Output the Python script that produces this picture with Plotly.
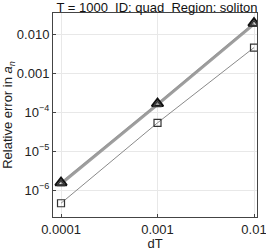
import plotly.graph_objects as go

dT = [0.0001, 0.001, 0.01]
err_tri = [1.55e-6, 1.65e-4, 0.019]
err_tri2 = [1.45e-6, 1.55e-4, 0.018]
err_sq = [4.6e-7, 5.3e-5, 4.5e-3]

y_tickvals = [1e-6, 1e-5, 1e-4, 1e-3, 1e-2]
y_ticktext = ["10<sup>−6</sup>", "10<sup>−5</sup>", "10<sup>−4</sup>", "0.001", "0.010"]
x_tickvals = [0.0001, 0.001, 0.01]
x_ticktext = ["0.0001", "0.001", "0.01"]

FONT = "Liberation Sans, Arial"

fig = go.Figure()
fig.add_trace(go.Scatter(x=dT, y=err_sq, mode="lines+markers",
                         line=dict(color="#8a8a8a", width=1),
                         marker=dict(symbol="square-open", size=7, color="#333333",
                                     line=dict(width=1.2))))
fig.add_trace(go.Scatter(x=dT, y=err_tri2, mode="lines",
                         line=dict(color="#a0a0a0", width=3)))
fig.add_trace(go.Scatter(x=dT, y=err_tri, mode="lines+markers",
                         line=dict(color="#9a9a9a", width=1.5),
                         marker=dict(symbol="triangle-up-open", size=10, color="#111111",
                                     line=dict(width=2))))
fig.add_trace(go.Scatter(x=dT, y=err_tri2, mode="markers",
                         marker=dict(symbol="triangle-up-open", size=7, color="#333333",
                                     line=dict(width=1.5))))

axis_common = dict(type="log", showline=True, linecolor="#444444", linewidth=1,
                   mirror=True, showgrid=True, gridcolor="#e8e8e8", gridwidth=1,
                   ticks="inside", ticklen=3, tickcolor="#444444", zeroline=False,
                   ticklabeloverflow="allow",
                   tickfont=dict(family=FONT, size=13, color="#222222"))

fig.update_layout(
    width=266, height=251,
    margin=dict(l=53, r=9, t=13, b=34, autoexpand=False),
    paper_bgcolor="white", plot_bgcolor="white",
    showlegend=False,
    title=dict(text="T = 1000  ID: quad  Region: soliton", x=0.59, xanchor="center",
               y=0.972, yanchor="middle",
               font=dict(family=FONT, size=13, color="#111111")),
    xaxis=dict(axis_common, range=[-4.083, -1.969], tickvals=x_tickvals, ticktext=x_ticktext,
               automargin=False,
               title=dict(text="dT", standoff=3,
                          font=dict(family=FONT, size=13, color="#222222"))),
    yaxis=dict(axis_common, range=[-6.69, -1.46], tickvals=y_tickvals, ticktext=y_ticktext,
               automargin=False,
               title=dict(text="Relative error in <i>a<sub>n</sub></i>", standoff=2,
                          font=dict(family=FONT, size=13, color="#222222"))),
)

fig.write_html("out.html", config={"displayModeBar": False},
               post_script="document.body.style.margin='0';")
